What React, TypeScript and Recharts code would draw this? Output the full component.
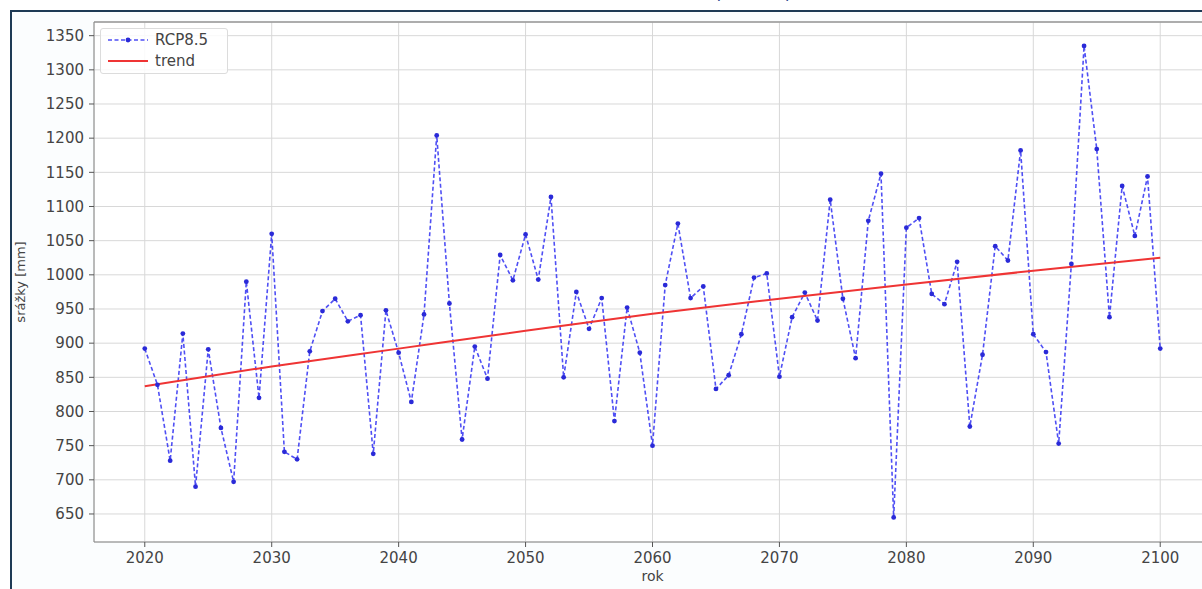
import React from "react";
import {
  LineChart,
  Line,
  XAxis,
  YAxis,
  CartesianGrid,
  Legend,
  ReferenceLine,
} from "recharts";

const years = [
  2020, 2021, 2022, 2023, 2024, 2025, 2026, 2027, 2028, 2029,
  2030, 2031, 2032, 2033, 2034, 2035, 2036, 2037, 2038, 2039,
  2040, 2041, 2042, 2043, 2044, 2045, 2046, 2047, 2048, 2049,
  2050, 2051, 2052, 2053, 2054, 2055, 2056, 2057, 2058, 2059,
  2060, 2061, 2062, 2063, 2064, 2065, 2066, 2067, 2068, 2069,
  2070, 2071, 2072, 2073, 2074, 2075, 2076, 2077, 2078, 2079,
  2080, 2081, 2082, 2083, 2084, 2085, 2086, 2087, 2088, 2089,
  2090, 2091, 2092, 2093, 2094, 2095, 2096, 2097, 2098, 2099,
  2100,
];

const rcp85 = [
  892, 839, 728, 914, 690, 891, 776, 697, 990, 820,
  1060, 741, 730, 888, 947, 965, 932, 941, 738, 948,
  886, 814, 942, 1204, 958, 759, 895, 848, 1029, 992,
  1059, 993, 1114, 850, 975, 921, 966, 786, 952, 886,
  750, 985, 1075, 966, 983, 833, 853, 913, 996, 1002,
  851, 938, 974, 933, 1110, 965, 878, 1079, 1148, 645,
  1069, 1083, 972, 957, 1019, 778, 883, 1042, 1021, 1182,
  913, 887, 753, 1016, 1335, 1184, 938, 1130, 1057, 1144,
  892,
];

const trendYears = [2020, 2030, 2040, 2050, 2060, 2070, 2080, 2090, 2100];
const trendValues = [837, 866, 892, 918, 943, 965, 986, 1006, 1025];

const xTicks = [2020, 2030, 2040, 2050, 2060, 2070, 2080, 2090, 2100];
const yTicks = [650, 700, 750, 800, 850, 900, 950, 1000, 1050, 1100, 1150, 1200, 1250, 1300, 1350];

const seriesLabel = "RCP8.5";
const trendLabel = "trend";
const xLabel = "rok";
const yLabel = "srážky [mm]";
const titleText = "(RCP8.5)";

const data = years.map((year, i) => {
  const ti = trendYears.indexOf(year);
  return {
    year,
    rcp: rcp85[i],
    trend: ti >= 0 ? trendValues[ti] : null,
  };
});

const FONT = "'DejaVu Sans', sans-serif";
const BLUE = "#3030f2";
const RED = "#ef3434";

const LegendBox = () => (
  <div
    style={{
      width: 128,
      height: 46,
      background: "rgba(255,255,255,0.85)",
      border: "1px solid #dcdcdc",
      borderRadius: 3,
      boxSizing: "border-box",
    }}
  >
    <svg width={126} height={44} style={{ display: "block" }}>
      <line x1={7} y1={11} x2={47} y2={11} stroke={BLUE} strokeOpacity={0.85} strokeWidth={1.6} strokeDasharray="4 2.5" />
      <circle cx={27} cy={11} r={2.4} fill="#2a2ad8" />
      <text x={54} y={11} dy="0.36em" fontSize={15} fill="#444" fontFamily={FONT}>
        {seriesLabel}
      </text>
      <line x1={7} y1={32} x2={47} y2={32} stroke={RED} strokeWidth={2} />
      <text x={54} y={32} dy="0.36em" fontSize={15} fill="#444" fontFamily={FONT}>
        {trendLabel}
      </text>
    </svg>
  </div>
);

export default function App() {
  return (
    <div
      style={{
        position: "fixed",
        left: 0,
        top: 0,
        width: 1202,
        height: 589,
        overflow: "hidden",
        background: "#ffffff",
      }}
    >
      <svg
        width={1202}
        height={12}
        style={{ position: "absolute", left: 0, top: 0, display: "block" }}
      >
        <text
          x={753}
          y={-1}
          textAnchor="middle"
          fontSize={18}
          fill="#1f3f8f"
          fontFamily={FONT}
        >
          {titleText}
        </text>
      </svg>
      <div
        style={{
          position: "absolute",
          left: 10,
          top: 10,
          width: 1200,
          height: 590,
          borderTop: "2px solid #1e3a55",
          borderLeft: "2px solid #1e3a55",
          background: "#fbfdfe",
          boxSizing: "border-box",
        }}
      />
      <div style={{ position: "absolute", left: 0, top: 0 }}>
        <LineChart
          width={1215}
          height={589}
          data={data}
          margin={{ top: 22, right: 4, left: 14, bottom: 2 }}
        >
          <CartesianGrid stroke="#d8d8d8" strokeWidth={1} fill="#ffffff" />
          <XAxis
            dataKey="year"
            type="number"
            domain={[2016, 2104]}
            ticks={xTicks}
            allowDataOverflow
            height={45}
            tickSize={5}
            tickMargin={5}
            stroke="#888"
            tick={{ fontSize: 15, fill: "#444", fontFamily: FONT }}
            tickLine={{ stroke: "#555" }}
            label={{
              value: xLabel,
              position: "insideBottom",
              offset: 6,
              style: { fontSize: 14, fill: "#444", fontFamily: FONT },
            }}
          />
          <YAxis
            type="number"
            domain={[609, 1370]}
            ticks={yTicks}
            allowDataOverflow
            width={80}
            tickSize={5}
            tickMargin={5}
            stroke="#888"
            tick={{ fontSize: 15, fill: "#444", fontFamily: FONT }}
            tickLine={{ stroke: "#555" }}
            label={{
              value: yLabel,
              angle: -90,
              position: "insideLeft",
              offset: 6,
              style: { fontSize: 13, fill: "#444", fontFamily: FONT, textAnchor: "middle" },
            }}
          />
          <ReferenceLine y={1370} stroke="#999" strokeWidth={1.5} ifOverflow="extendDomain" />
          <Legend
            verticalAlign="middle"
            align="center"
            layout="horizontal"
            wrapperStyle={{ position: "absolute", left: 100, top: 28, width: 128, height: 46 }}
            content={() => <LegendBox />}
          />
          <Line
            type="linear"
            dataKey="rcp"
            name={seriesLabel}
            stroke={BLUE}
            strokeOpacity={0.85}
            strokeWidth={1.6}
            strokeDasharray="4 2.5"
            dot={{ r: 2.4, fill: "#2a2ad8", stroke: "none" }}
            activeDot={false}
            isAnimationActive={false}
          />
          <Line
            type="monotone"
            dataKey="trend"
            name={trendLabel}
            stroke={RED}
            strokeWidth={2}
            dot={false}
            activeDot={false}
            connectNulls
            isAnimationActive={false}
          />
        </LineChart>
      </div>
    </div>
  );
}
